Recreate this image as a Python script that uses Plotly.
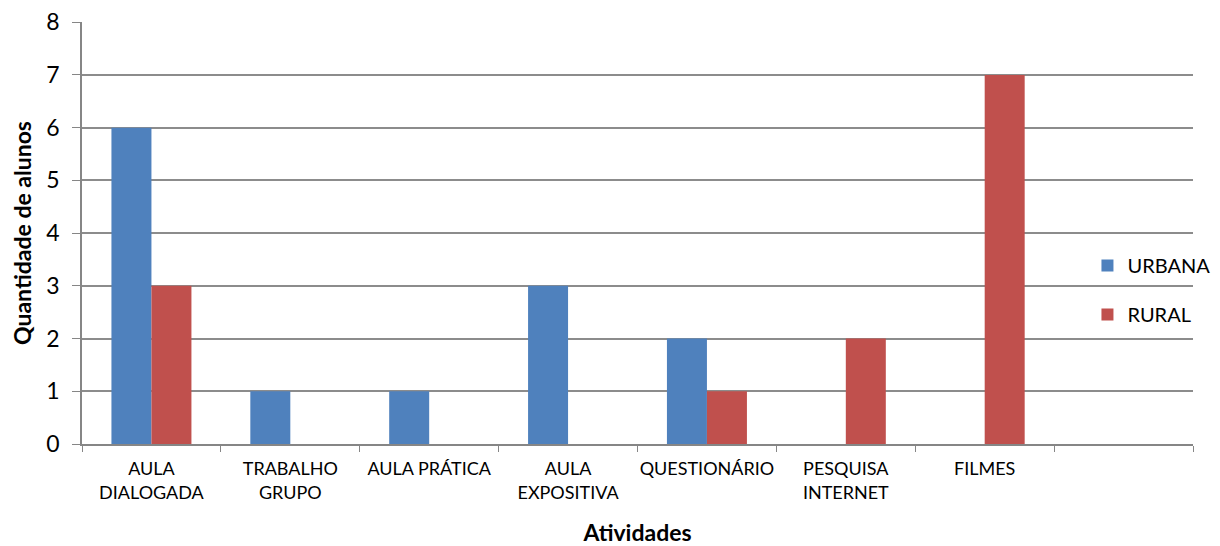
import plotly.graph_objects as go

categories = ["AULA<br>DIALOGADA", "TRABALHO<br>GRUPO", "AULA PRÁTICA", "AULA<br>EXPOSITIVA",
              "QUESTIONÁRIO", "PESQUISA<br>INTERNET", "FILMES", " "]
urbana = [6, 1, 1, 3, 2, None, None, None]
rural = [3, None, None, None, 1, 2, 7, None]
y_ticks = [0, 1, 2, 3, 4, 5, 6, 7, 8]

FONT = "Lato, 'Open Sans', sans-serif"

fig = go.Figure()
fig.add_trace(go.Bar(x=categories, y=urbana, name="URBANA", marker_color="#4F81BD",
                     marker_line_width=0, legendgroup="a"))
fig.add_trace(go.Bar(x=categories, y=rural, name="RURAL", marker_color="#C0504D",
                     marker_line_width=0, legendgroup="b"))

fig.update_layout(
    width=1212, height=538,
    margin=dict(l=74, r=27, t=14, b=102, autoexpand=False),
    paper_bgcolor="white", plot_bgcolor="white",
    barmode="group", bargap=0.424, bargroupgap=0,
    font=dict(family=FONT, color="#000000"),
    legend=dict(x=0.905, y=0.365, xanchor="left", yanchor="middle",
                bgcolor="rgba(0,0,0,0)", font=dict(size=20, family=FONT),
                tracegroupgap=20, itemwidth=30),
    xaxis=dict(type="category", categoryorder="array", categoryarray=categories,
               tickson="boundaries", ticks="outside", ticklen=6, tickcolor="#868686",
               showline=True, linecolor="#868686", linewidth=1.5, showgrid=False,
               automargin=False, tickangle=0, ticklabelstandoff=8,
               tickfont=dict(size=18, family=FONT), range=[-0.5, 7.5],
               title=dict(text="<b>Atividades</b>", font=dict(size=23, family=FONT), standoff=24)),
    yaxis=dict(range=[0, 8.004], tickvals=y_ticks, ticks="outside", ticklen=8, tickcolor="#868686",
               showline=True, linecolor="#868686", linewidth=1.5, automargin=False,
               showgrid=True, gridcolor="#8C8C8C", gridwidth=1.5, zeroline=False,
               ticklabelstandoff=8, ticklabeloverflow="allow",
               tickfont=dict(size=23, family=FONT),
               title=dict(text="<b>Quantidade de alunos</b>", font=dict(size=23, family=FONT), standoff=12)),
)

fig.write_html("out.html")
